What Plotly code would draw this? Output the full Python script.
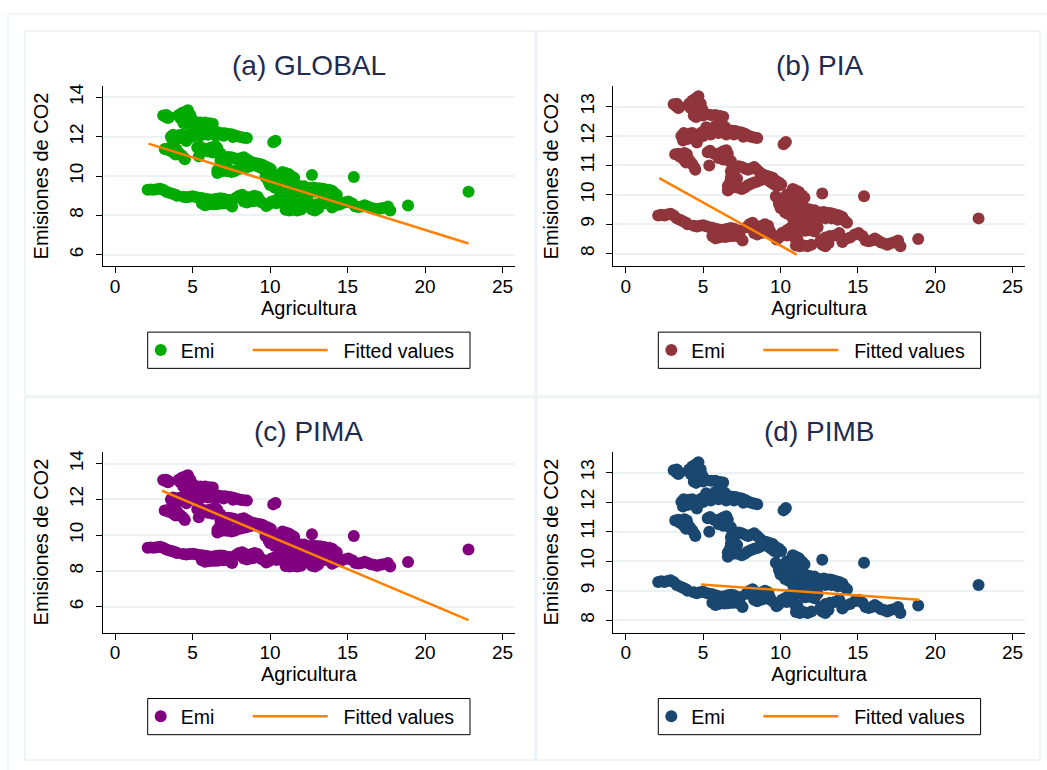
import plotly.graph_objects as go

# ---------------- data (Agricultura, Emisiones de CO2) ----------------
cluster_top = [(3.1, 13.08), (3.25, 13.02), (3.4, 12.95), (3.3, 13.1), (3.5, 13.0),
               (4.1, 13.1), (4.2, 12.95), (4.3, 13.2), (4.45, 13.25), (4.6, 13.3),
               (4.7, 13.35), (4.75, 13.15), (4.8, 13.0), (4.65, 12.85), (4.5, 12.8),
               (4.9, 12.75), (4.85, 13.1), (4.3, 13.05), (4.6, 12.95),
               (4.4, 12.7), (4.55, 12.65), (4.95, 12.9), (5.0, 12.7),
               (5.2, 12.75), (5.5, 12.72), (5.8, 12.72), (6.1, 12.68), (6.3, 12.66)]
cluster_12 = [(3.6, 12.0), (3.75, 12.1), (3.9, 11.95), (4.1, 12.08), (4.3, 12.1), (4.5, 11.9),
              (4.6, 11.78), (4.7, 12.05), (4.9, 12.12), (5.1, 12.18), (5.3, 12.2), (5.5, 12.22),
              (5.7, 12.25), (5.9, 12.25), (6.1, 12.27), (6.3, 12.25), (6.5, 12.22), (6.7, 12.2),
              (6.9, 12.18), (7.1, 12.17), (7.3, 12.14), (7.5, 12.12), (7.7, 12.08), (7.9, 12.02),
              (8.1, 11.98), (8.3, 11.95), (8.5, 11.93), (3.7, 11.85), (4.0, 11.9), (5.0, 12.0),
              (4.2, 11.95), (4.4, 12.0), (5.5, 12.05), (6.0, 12.1), (6.5, 12.05), (7.0, 12.05),
              (7.6, 11.98), (5.2, 12.3), (5.8, 12.35), (6.4, 12.32),
              (10.2, 11.72), (10.35, 11.8)]
cluster_11_left = [(3.2, 11.38), (3.4, 11.4), (3.6, 11.35), (3.8, 11.42), (3.95, 11.38), (4.0, 11.25),
                   (4.15, 11.15), (4.3, 11.05), (4.45, 10.92), (4.5, 10.85), (3.5, 11.3), (3.75, 11.2),
                   (3.9, 11.1)]
cluster_11_mid = [(5.3, 11.45), (5.45, 11.5), (5.7, 11.4), (5.9, 11.38), (6.1, 11.42), (6.3, 11.48),
                  (6.5, 11.52), (6.6, 11.4), (6.0, 11.25), (6.3, 11.2), (6.6, 11.18), (6.8, 11.15),
                  (5.4, 11.0)]
cluster_loop = [(6.9, 10.95), (7.1, 10.95), (7.3, 10.97), (7.5, 10.95), (7.7, 10.9), (7.9, 10.85),
                (8.1, 10.9), (8.3, 10.95), (8.5, 10.85), (8.7, 10.75), (8.9, 10.68), (9.1, 10.65),
                (9.3, 10.62), (9.5, 10.58), (9.7, 10.48), (9.9, 10.42), (10.05, 10.35),
                (6.8, 10.8), (6.8, 10.6), (6.75, 10.45), (6.6, 10.3), (6.6, 10.15),
                (6.9, 10.25), (7.2, 10.25), (7.5, 10.2), (7.7, 10.25), (7.9, 10.33), (8.1, 10.38),
                (8.3, 10.42), (8.5, 10.45), (8.7, 10.5), (8.9, 10.55), (9.2, 10.5), (9.4, 10.42),
                (9.6, 10.35), (9.8, 10.3), (7.0, 10.7), (7.2, 10.55), (7.1, 10.4)]
cluster_descent = [(10.8, 10.2), (11.0, 10.15), (11.2, 10.1), (11.4, 9.98), (11.55, 9.9),
                   (9.7, 9.95), (9.85, 9.85), (9.9, 9.7), (10.0, 9.55), (10.1, 9.62), (10.2, 9.5),
                   (10.3, 9.4), (10.5, 9.35), (10.3, 9.75), (10.6, 9.6), (10.8, 9.55), (11.0, 9.48),
                   (11.2, 9.4), (11.4, 9.35), (11.6, 9.3), (11.8, 9.35), (12.0, 9.32), (12.2, 9.3),
                   (12.4, 9.35), (12.6, 9.4), (12.8, 9.42), (13.0, 9.38), (13.2, 9.38), (13.4, 9.36),
                   (13.6, 9.32), (13.8, 9.3), (14.0, 9.25), (14.15, 9.12), (14.3, 9.05),
                   (10.8, 9.2), (11.0, 9.05), (11.3, 9.1), (11.5, 9.0), (11.8, 8.9), (12.0, 8.85),
                   (12.2, 8.75), (11.7, 9.15), (12.1, 9.1), (11.6, 8.78), (12.4, 8.9),
                   (11.5, 9.2), (11.7, 9.0), (11.9, 8.8), (12.1, 8.95), (12.3, 9.15), (11.9, 9.2),
                   (12.5, 9.2), (12.9, 9.2), (13.3, 9.2), (13.7, 9.15), (10.6, 9.8), (10.9, 9.7),
                   (11.3, 9.65), (11.6, 9.55), (11.9, 9.5), (12.2, 9.48), (10.4, 10.0), (10.7, 9.95),
                   (12.7, 10.05), (15.4, 9.95)]
cluster_bottom = [(2.1, 9.3), (2.3, 9.32), (2.5, 9.3), (2.7, 9.33), (2.9, 9.36), (3.1, 9.3), (3.3, 9.2),
                  (3.5, 9.15), (3.7, 9.1), (3.9, 9.05), (4.0, 9.0),
                  (4.4, 8.95), (4.6, 8.92), (4.8, 8.95), (5.0, 8.97), (5.2, 8.93), (5.4, 8.9),
                  (5.6, 8.88), (5.8, 8.85), (6.0, 8.82), (6.2, 8.8), (6.4, 8.82), (6.6, 8.85),
                  (6.8, 8.87), (7.0, 8.85), (7.2, 8.8), (7.4, 8.78),
                  (5.6, 8.6), (5.8, 8.52), (6.0, 8.55), (6.2, 8.58), (6.4, 8.57), (6.6, 8.58),
                  (6.8, 8.6), (7.0, 8.6), (7.2, 8.65), (7.4, 8.55), (7.55, 8.45),
                  (7.8, 8.9), (8.0, 9.0), (8.2, 9.05), (8.4, 8.95), (8.6, 8.9), (8.8, 8.95),
                  (9.0, 9.0), (9.2, 8.95), (9.3, 8.8), (8.3, 8.7), (8.5, 8.65), (8.7, 8.7),
                  (8.9, 8.72), (9.4, 8.68), (9.6, 8.6), (9.75, 8.48), (9.9, 8.55), (10.1, 8.7),
                  (10.3, 8.75), (10.5, 8.82), (10.7, 8.9), (10.9, 8.8), (10.4, 8.62), (10.9, 8.55),
                  (11.1, 8.5), (11.0, 8.28), (11.25, 8.25), (11.5, 8.28), (11.75, 8.25), (12.0, 8.3)]
cluster_right = [(12.7, 8.3), (12.9, 8.25), (13.1, 8.35), (12.9, 8.55), (13.2, 8.6), (13.5, 8.62),
                 (13.75, 8.65), (14.0, 8.4), (14.2, 8.5), (14.5, 8.55), (14.8, 8.65), (15.05, 8.7),
                 (15.3, 8.6), (15.5, 8.45), (15.7, 8.42), (15.9, 8.45), (16.1, 8.52), (16.3, 8.45),
                 (16.5, 8.38), (16.7, 8.35), (16.9, 8.3), (17.1, 8.35), (17.3, 8.38), (17.6, 8.45),
                 (17.75, 8.25), (13.8, 8.7), (12.6, 8.45), (18.9, 8.5), (22.8, 9.2)]

# fitted values (regression line end points) per panel
fit_global_x, fit_global_y = [2.15, 22.8], [11.65, 6.57]
fit_pia_x, fit_pia_y = [2.17, 11.05], [10.57, 7.97]
fit_pima_x, fit_pima_y = [3.03, 22.8], [12.48, 5.26]
fit_pimb_x, fit_pimb_y = [4.87, 18.98], [9.21, 8.70]

panel_titles = ["(a) GLOBAL", "(b) PIA", "(c) PIMA", "(d) PIMB"]
x_ticks = [0, 5, 10, 15, 20, 25]
y_ticks_wide = [6, 8, 10, 12, 14]
y_ticks_narrow = [8, 9, 10, 11, 12, 13]

all_points = (cluster_top + cluster_12 + cluster_11_left + cluster_11_mid + cluster_loop
              + cluster_descent + cluster_bottom + cluster_right)
agri = [p[0] for p in all_points]
emi = [p[1] for p in all_points]

# ---------------- figure ----------------
W, H = 1047, 770
FONT = "Liberation Sans, Arial, sans-serif"
GRID = "#eaf2f3"
ORANGE = "#ff8000"
TITLE_COLOR = "#1e2c4f"

def px_x(p):
    return p / W

def px_y(p):
    return 1 - p / H

panels = [
    dict(color="#00aa00", fx=fit_global_x, fy=fit_global_y, yr=[5.41, 14.59], yt=y_ticks_wide,
         left=102.7, right=515, top=84, bottom=265),
    dict(color="#90353b", fx=fit_pia_x, fy=fit_pia_y, yr=[7.57, 13.71], yt=y_ticks_narrow,
         left=613.3, right=1025, top=84, bottom=265),
    dict(color="#800080", fx=fit_pima_x, fy=fit_pima_y, yr=[4.56, 14.67], yt=y_ticks_wide,
         left=102.7, right=515, top=450.7, bottom=632.3),
    dict(color="#1a476f", fx=fit_pimb_x, fy=fit_pimb_y, yr=[7.585, 13.71], yt=y_ticks_narrow,
         left=613.3, right=1025, top=450.7, bottom=632.3),
]

fig = go.Figure()
layout = dict(
    width=W, height=H, margin=dict(l=0, r=0, t=0, b=0),
    paper_bgcolor="white", plot_bgcolor="white",
    font=dict(family=FONT, color="black"),
    showlegend=True, annotations=[], shapes=[],
)

for i, p in enumerate(panels):
    n = i + 1
    xa = "x" if n == 1 else f"x{n}"
    ya = "y" if n == 1 else f"y{n}"
    leg_emi = "legend" if n == 1 else f"legend{2 * n - 1}"
    leg_fit = f"legend{2 * n}"
    fig.add_trace(go.Scatter(
        x=agri, y=emi, mode="markers", name="Emi", xaxis=xa, yaxis=ya,
        marker=dict(color=p["color"], size=12, line=dict(width=0)), legend=leg_emi,
    ))
    fig.add_trace(go.Scatter(
        x=p["fx"], y=p["fy"], mode="lines", name="  Fitted values", xaxis=xa, yaxis=ya,
        line=dict(color=ORANGE, width=2.5), legend=leg_fit,
    ))
    xkey = "xaxis" if n == 1 else f"xaxis{n}"
    ykey = "yaxis" if n == 1 else f"yaxis{n}"
    layout[xkey] = dict(
        domain=[px_x(p["left"]), px_x(p["right"])], anchor=ya, range=[-0.8, 25.8],
        tickvals=x_ticks, ticks="outside", ticklen=6, tickcolor="black", tickwidth=1,
        ticklabelstandoff=-3,
        showline=True, linecolor="black", linewidth=1, showgrid=False, zeroline=False,
        tickfont=dict(size=19, family=FONT, color="black"),
        title=dict(text="Agricultura", font=dict(size=20, family=FONT, color="black"), standoff=1),
        fixedrange=True,
    )
    layout[ykey] = dict(
        domain=[px_y(p["bottom"]), px_y(p["top"])], anchor=xa, range=p["yr"],
        tickvals=p["yt"], ticks="outside", ticklen=6, tickcolor="black", tickwidth=1,
        tickangle=-90, ticklabelstandoff=5,
        showline=True, linecolor="black", linewidth=1, showgrid=True, gridcolor=GRID,
        gridwidth=1.5, zeroline=False,
        tickfont=dict(size=19, family=FONT, color="black"),
        title=dict(text="Emisiones de CO2", font=dict(size=20, family=FONT, color="black"), standoff=12),
        fixedrange=True,
    )
    cx = (p["left"] + p["right"]) / 2
    layout["annotations"].append(dict(
        text=panel_titles[i], x=px_x(cx), y=px_y(p["top"] - 20), xref="paper", yref="paper",
        xanchor="center", yanchor="middle", showarrow=False,
        font=dict(size=28, family=FONT, color=TITLE_COLOR),
    ))
    # legend frame & placement
    bx0 = p["left"] + 45.0
    bx1 = p["left"] + 367.3
    by0 = p["bottom"] + 66
    by1 = p["bottom"] + 102.3
    layout["shapes"].append(dict(type="rect", xref="paper", yref="paper",
                                 x0=px_x(bx0), x1=px_x(bx1), y0=px_y(by0), y1=px_y(by1),
                                 line=dict(color="black", width=1), fillcolor="rgba(0,0,0,0)"))
    ymid = px_y((by0 + by1) / 2)
    layout[leg_emi] = dict(
        x=px_x(p["left"] + 38.0), y=ymid, xanchor="left", yanchor="middle",
        orientation="h", bgcolor="rgba(0,0,0,0)", borderwidth=0,
        font=dict(size=19.5, family=FONT, color="black"), itemwidth=30,
    )
    layout[leg_fit] = dict(
        x=px_x(p["left"] + 145.0), y=ymid, xanchor="left", yanchor="middle",
        orientation="h", bgcolor="rgba(0,0,0,0)", borderwidth=0,
        font=dict(size=19.5, family=FONT, color="black"), itemwidth=75,
    )

# panel frames and outer frame (light bluish gray, Stata style)
frames = [(8, 12, 1057, 777), (25, 29, 535, 395), (536.5, 29, 1040, 395),
          (25, 396.5, 535, 760), (536.5, 396.5, 1040, 760)]
for (a, b, c, d) in frames:
    layout["shapes"].append(dict(type="rect", xref="paper", yref="paper", layer="below",
                                 x0=px_x(a), x1=px_x(c), y0=px_y(b), y1=px_y(d),
                                 line=dict(color=GRID, width=1.5), fillcolor="rgba(0,0,0,0)"))

fig.update_layout(**layout)
fig.write_html("out.html", config={"displayModeBar": False},
               post_script="document.body.style.margin='0';")
